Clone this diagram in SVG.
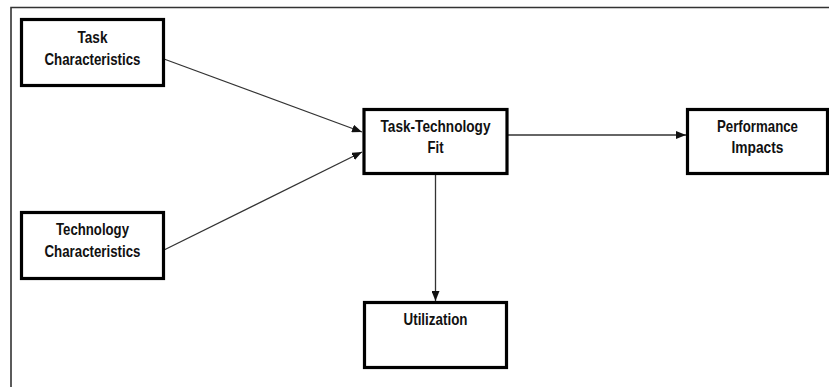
<svg xmlns="http://www.w3.org/2000/svg" width="829" height="387" viewBox="0 0 829 387">
  <defs>
    <marker id="arrow" viewBox="0 0 10 8" refX="10" refY="4" markerWidth="10" markerHeight="8" markerUnits="userSpaceOnUse" orient="auto">
      <path d="M0,0 L10,4 L0,8 Z" fill="#111"/>
    </marker>
  </defs>
  <style>
    .frame { fill: none; stroke: #333; stroke-width: 1.6; }
    .box { fill: #fff; stroke: #000; stroke-width: 3.2; }
    .label { font-family: "Liberation Sans", Arial, sans-serif; font-weight: bold; font-size: 16.5px; fill: #111; text-anchor: middle; }
    .link { fill: none; stroke: #333; stroke-width: 1.3; marker-end: url(#arrow); }
  </style>
  <rect width="829" height="387" fill="#fff"/>
  <!-- outer frame, open at right and bottom -->
  <path class="frame" d="M11,387 L11,7.5 L829,7.5"/>

  <g id="connectors">
    <line class="link" x1="164" y1="59" x2="362" y2="132"/>
    <line class="link" x1="164" y1="250" x2="362" y2="152"/>
    <line class="link" x1="507" y1="135" x2="686" y2="135"/>
    <line class="link" x1="435.5" y1="174" x2="435.5" y2="301"/>
  </g>

  <g id="task-characteristics">
    <rect class="box" x="21.5" y="19.5" width="142" height="66"/>
    <text class="label" x="92.5" y="43" textLength="30" lengthAdjust="spacingAndGlyphs">Task</text>
    <text class="label" x="92.5" y="65" textLength="96" lengthAdjust="spacingAndGlyphs">Characteristics</text>
  </g>

  <g id="technology-characteristics">
    <rect class="box" x="21.5" y="212.5" width="142" height="66"/>
    <text class="label" x="92.5" y="235" textLength="73" lengthAdjust="spacingAndGlyphs">Technology</text>
    <text class="label" x="92.5" y="257" textLength="96" lengthAdjust="spacingAndGlyphs">Characteristics</text>
  </g>

  <g id="task-technology-fit">
    <rect class="box" x="364" y="109.5" width="143" height="64"/>
    <text class="label" x="435.5" y="132" textLength="110" lengthAdjust="spacingAndGlyphs">Task-Technology</text>
    <text class="label" x="435.5" y="153" textLength="16" lengthAdjust="spacingAndGlyphs">Fit</text>
  </g>

  <g id="performance-impacts">
    <rect class="box" x="687.5" y="109.5" width="140" height="64"/>
    <text class="label" x="757.5" y="132" textLength="81" lengthAdjust="spacingAndGlyphs">Performance</text>
    <text class="label" x="757.5" y="153" textLength="52" lengthAdjust="spacingAndGlyphs">Impacts</text>
  </g>

  <g id="utilization">
    <rect class="box" x="364.5" y="302.5" width="142" height="65"/>
    <text class="label" x="435.5" y="325" textLength="64" lengthAdjust="spacingAndGlyphs">Utilization</text>
  </g>
</svg>
